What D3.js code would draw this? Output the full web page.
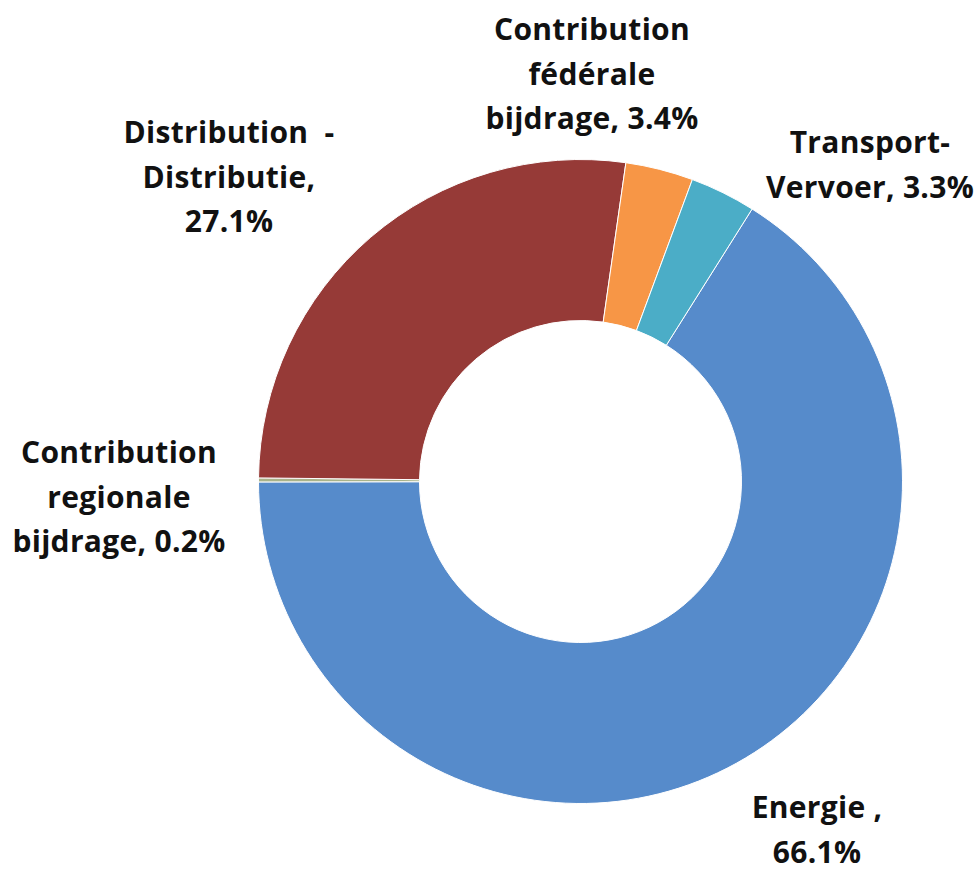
<!DOCTYPE html>
<html>
<head>
<meta charset="utf-8">
<script src="https://cdn.jsdelivr.net/npm/d3@7"></script>
<style>
  html, body { margin: 0; padding: 0; background: #ffffff; }
  svg { display: block; }
  text { font-family: "Open Sans", "Lato", sans-serif; font-weight: 700; fill: #111; }
</style>
</head>
<body>
<svg id="chart" width="977" height="870"></svg>
<script>
// ---- data ----
const categories = ["Energie", "Contribution regionale bijdrage", "Distribution - Distributie", "Contribution fédérale bijdrage", "Transport-Vervoer"];
const values = [66.1, 0.2, 27.1, 3.4, 3.3];
const colors = ["#568BCB", "#A9B38A", "#963A37", "#F79646", "#4BADC7"];
const labelLines = [
  ["Energie ,", "66.1%"],
  ["Contribution", "regionale", "bijdrage, 0.2%"],
  ["Distribution  -", "Distributie,", "27.1%"],
  ["Contribution", "fédérale", "bijdrage, 3.4%"],
  ["Transport-", "Vervoer, 3.3%"]
];
// label anchor positions (centre of label block)
const labelPos = [
  [817, 830],
  [119, 497],
  [229, 177],
  [592, 74],
  [870, 165]
];

const W = 977, H = 870;
const cx = 580.5, cy = 481.5, outerR = 322, innerR = 161;

const svg = d3.select("#chart");
const g = svg.append("g").attr("transform", `translate(${cx},${cy})`);

const data = categories.map((c, i) => ({ name: c, value: values[i], color: colors[i], lines: labelLines[i], pos: labelPos[i] }));

const start = 32.2 * Math.PI / 180;
const pie = d3.pie().sort(null).value(d => d.value).startAngle(start).endAngle(start + 2 * Math.PI);
const arc = d3.arc().innerRadius(innerR).outerRadius(outerR);

g.selectAll("path.slice")
  .data(pie(data))
  .join("path")
  .attr("class", "slice")
  .attr("d", arc)
  .attr("fill", d => d.data.color)
  .attr("stroke", "#ffffff")
  .attr("stroke-width", 1);

const fs = 30, lh = 44.5;
const lab = svg.selectAll("text.lab")
  .data(data)
  .join("text")
  .attr("class", "lab")
  .attr("text-anchor", "middle")
  .style("font-size", fs + "px")
  .style("letter-spacing", "0.3px")
  .style("white-space", "pre");

lab.each(function(d) {
  const t = d3.select(this);
  const n = d.lines.length;
  d.lines.forEach((ln, j) => {
    t.append("tspan")
      .attr("x", d.pos[0])
      .attr("y", d.pos[1] + (j - (n - 1) / 2) * lh)
      .attr("dy", "0.35em")
      .text(ln);
  });
});
</script>
</body>
</html>
